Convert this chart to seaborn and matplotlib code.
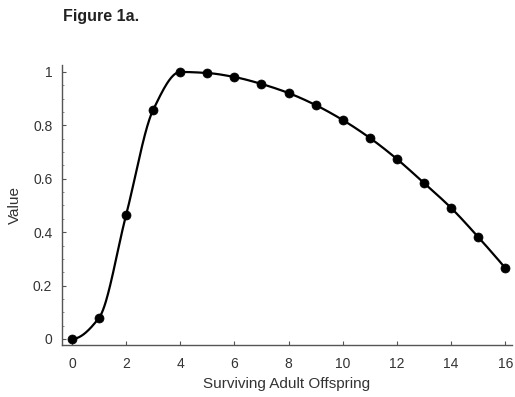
import numpy as np
import pandas as pd
import matplotlib
matplotlib.use("Agg")
import matplotlib.pyplot as plt
import seaborn as sns
from matplotlib.ticker import MultipleLocator

offspring = [0, 1, 2, 3, 4, 5, 6, 7, 8, 9, 10, 11, 12, 13, 14, 15, 16]
value = [0.0, 0.079, 0.464, 0.858, 1.0, 0.996, 0.981, 0.955, 0.921, 0.876,
         0.820, 0.753, 0.674, 0.584, 0.491, 0.382, 0.266]
x_ticks = [0, 2, 4, 6, 8, 10, 12, 14, 16]
y_ticks = [0, 0.2, 0.4, 0.6, 0.8, 1.0]
y_tick_labels = ["0", "0.2", "0.4", "0.6", "0.8", "1"]

df = pd.DataFrame({"Surviving Adult Offspring": offspring, "Value": value})


def pchip(x, y, xs):
    # monotone cubic rendering of the line through the data points
    x = np.asarray(x, float); y = np.asarray(y, float)
    h = np.diff(x); d = np.diff(y) / h
    m = np.zeros_like(y)
    for k in range(1, len(x) - 1):
        if d[k - 1] * d[k] > 0:
            w1 = 2 * h[k] + h[k - 1]; w2 = h[k] + 2 * h[k - 1]
            m[k] = (w1 + w2) / (w1 / d[k - 1] + w2 / d[k])
    m[0] = 0.0
    m[-1] = d[-1] + (d[-1] - d[-2]) * 0.5
    idx = np.clip(np.searchsorted(x, xs) - 1, 0, len(x) - 2)
    t = (xs - x[idx]) / h[idx]
    h00 = 2 * t**3 - 3 * t**2 + 1; h10 = t**3 - 2 * t**2 + t
    h01 = -2 * t**3 + 3 * t**2; h11 = t**3 - t**2
    return h00 * y[idx] + h10 * h[idx] * m[idx] + h01 * y[idx + 1] + h11 * h[idx] * m[idx + 1]


sns.set_theme(style="white")
plt.rcParams["font.family"] = ["Liberation Sans", "DejaVu Sans"]

fig = plt.figure(figsize=(5.15, 3.97), dpi=100)
ax = fig.add_axes([62 / 515, 1 - 345 / 397, 450 / 515, 280 / 397])

xs = np.linspace(0, 16, 600)
curve = pd.DataFrame({"x": xs, "y": pchip(offspring, value, xs)})
sns.lineplot(data=curve, x="x", y="y", ax=ax, color="black", linewidth=1.6)
sns.scatterplot(data=df, x="Surviving Adult Offspring", y="Value", ax=ax,
                color="black", s=42, edgecolor="black", zorder=3, clip_on=False)

ax.set_xlim(-0.366, 16.25)
ax.set_ylim(-0.0225, 1.026)
ax.set_xticks(x_ticks)
ax.set_yticks(y_ticks)
ax.set_yticklabels(y_tick_labels)
ax.yaxis.set_minor_locator(MultipleLocator(0.05))
ax.tick_params(axis="both", which="major", direction="in", length=3, width=0.8,
               labelsize=10, colors="#555555", labelcolor="#333333")
ax.tick_params(axis="x", pad=9)
ax.tick_params(axis="y", pad=7)
ax.tick_params(axis="y", which="minor", direction="in", length=1.5, width=0.6,
               colors="#777777")
ax.tick_params(bottom=True, left=True, which="both")
ax.tick_params(axis="x", which="minor", bottom=False)
for s in ["top", "right"]:
    ax.spines[s].set_visible(False)
for s in ["left", "bottom"]:
    ax.spines[s].set_color("#555555")
    ax.spines[s].set_linewidth(1.0)

ax.set_xlabel("Surviving Adult Offspring", fontsize=11, color="#333333", labelpad=4)
ax.set_ylabel("Value", fontsize=11, color="#333333", labelpad=8)

fig.text(63 / 515, 1 - 17 / 397, "Figure 1a.", fontsize=11.5, fontweight="bold",
         color="#222222", va="center", ha="left")

fig.savefig("out.png", dpi=100, facecolor="white")
